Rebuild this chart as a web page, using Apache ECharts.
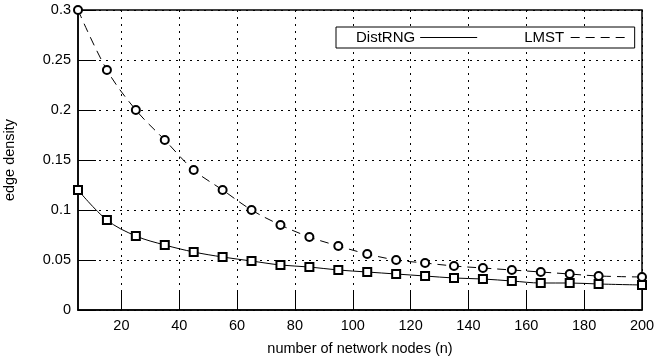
<!DOCTYPE html>
<html>
<head>
<meta charset="utf-8">
<script src="https://cdn.jsdelivr.net/npm/echarts@6/dist/echarts.min.js"></script>
<style>
  html, body { margin: 0; padding: 0; background: #fff; }
  #chart { width: 659px; height: 359px; }
</style>
</head>
<body>
<div id="chart"></div>
<script>
// number of network nodes
const nodes = [5, 15, 25, 35, 45, 55, 65, 75, 85, 95, 105, 115, 125, 135, 145, 155, 165, 175, 185, 200];
const distRng = [0.12, 0.09, 0.074, 0.065, 0.058, 0.053, 0.049, 0.045, 0.043, 0.040,
  0.038, 0.036, 0.034, 0.032, 0.031, 0.029, 0.027, 0.027, 0.026, 0.025];
const lmst = [0.30, 0.24, 0.20, 0.17, 0.14, 0.12, 0.10, 0.085, 0.073, 0.064,
  0.056, 0.050, 0.047, 0.044, 0.042, 0.040, 0.038, 0.036, 0.034, 0.033];
const xTicks = [20, 40, 60, 80, 100, 120, 140, 160, 180, 200];

const font = 'Liberation Sans, Arial, Helvetica, sans-serif';
const pairs = (ys) => nodes.map((x, i) => [x, ys[i]]);

const chart = echarts.init(document.getElementById('chart'));

chart.setOption({
  animation: false,
  textStyle: { fontFamily: font },
  grid: {
    left: 78,
    right: 17,
    top: 10,
    bottom: 49,
    outerBoundsMode: 'none',
    containLabel: false,
    show: true,
    borderColor: '#000',
    borderWidth: 1.5,
    backgroundColor: 'transparent'
  },
  legend: {
    left: 336,
    top: 27,
    padding: [3, 10, 3, 20],
    itemGap: 47,
    align: 'right',
    itemWidth: 57,
    itemHeight: 1,
    borderColor: '#000',
    borderWidth: 1,
    borderRadius: 0,
    backgroundColor: '#fff',
    itemStyle: { color: '#000', borderWidth: 0 },
    textStyle: { color: '#000', fontSize: 15, fontFamily: font },
    data: [
      { name: 'DistRNG', icon: 'path://M0,0H57V1H0Z' },
      { name: 'LMST', icon: 'path://M0,0H9V1H0Z M15,0H24V1H15Z M30,0H39V1H30Z M45,0H54V1H45Z' }
    ]
  },
  xAxis: {
    type: 'value',
    min: 5,
    max: 200,
    name: 'number of network nodes (n)',
    nameLocation: 'middle',
    nameGap: 31,
    nameTextStyle: { color: '#000', fontSize: 14.5 },
    axisLine: { show: true, lineStyle: { color: '#000', width: 1.5 } },
    axisTick: { show: true, inside: true, length: 18, customValues: xTicks, lineStyle: { color: '#000' } },
    axisLabel: { color: '#000', fontSize: 14.5, margin: 8, customValues: xTicks },
    splitLine: { show: true, lineStyle: { color: '#000', type: [2, 5], width: 1 } }
  },
  yAxis: {
    type: 'value',
    min: 0,
    max: 0.3,
    interval: 0.05,
    name: 'edge density',
    nameLocation: 'middle',
    nameGap: 61,
    nameTextStyle: { color: '#000', fontSize: 14.5 },
    axisLine: { show: true, lineStyle: { color: '#000', width: 1.5 } },
    axisTick: { show: true, inside: true, length: 18, lineStyle: { color: '#000' } },
    axisLabel: { color: '#000', fontSize: 14.5, margin: 7 },
    splitLine: { show: true, lineStyle: { color: '#000', type: [2, 5], width: 1 } }
  },
  series: [
    {
      name: 'DistRNG',
      type: 'line',
      data: pairs(distRng),
      smooth: 0.35,
      clip: false,
      symbol: 'emptyRect',
      symbolSize: 8,
      color: '#000',
      itemStyle: { color: '#000', borderWidth: 0.8 },
      lineStyle: { color: '#000', width: 1 }
    },
    {
      name: 'LMST',
      type: 'line',
      data: pairs(lmst),
      smooth: 0.35,
      clip: false,
      symbol: 'emptyCircle',
      symbolSize: 8,
      color: '#000',
      itemStyle: { color: '#000', borderWidth: 0.8 },
      lineStyle: { color: '#000', width: 1, type: [9, 6] }
    }
  ]
});
</script>
</body>
</html>
